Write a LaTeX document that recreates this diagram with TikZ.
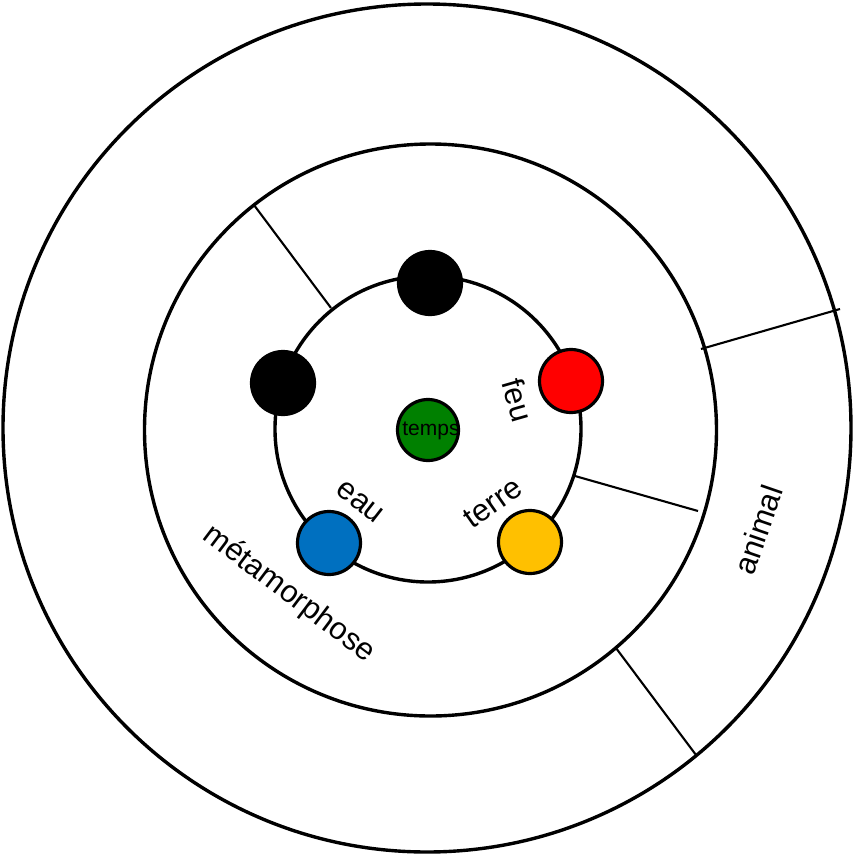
\documentclass[tikz,border=0pt]{standalone}
\usepackage{fontspec}
\setmainfont{Liberation Sans}
\definecolor{cred}{RGB}{255,0,0}
\definecolor{cgreen}{RGB}{0,128,0}
\definecolor{cblue}{RGB}{0,112,192}
\definecolor{cyellow}{RGB}{255,192,0}
\begin{document}
\begin{tikzpicture}[x=1pt,y=-1pt,
  ring/.style={draw=black,line width=3.4pt},
  spoke/.style={draw=black,line width=2.1pt},
  dot/.style={circle,draw=black,line width=3.2pt,minimum size=63pt,inner sep=0pt},
  lbl/.style={font=\fontsize{31}{33}\selectfont,inner sep=0pt}]
\useasboundingbox (0,0) rectangle (854,855);
\coordinate (oc) at (427,428);
\coordinate (mc) at (430.5,430);
\coordinate (ic) at (428,429);
\draw[ring] (oc) circle[radius=424];
\draw[ring] (mc) circle[radius=286];
% spokes
\coordinate (s1a) at (254,205); \coordinate (s1b) at (331,308);
\coordinate (s2a) at (575,476); \coordinate (s2b) at (698,511);
\coordinate (s3a) at (701,349); \coordinate (s3b) at (840,309);
\coordinate (s4a) at (616,648); \coordinate (s4b) at (696,755);
\draw[spoke] (s1a) -- (s1b);
\draw[spoke] (s2a) -- (s2b);
\draw[spoke] (s3a) -- (s3b);
\draw[spoke] (s4a) -- (s4b);
\draw[ring] (ic) circle[radius=153];
% dots
\node[dot,fill=black] (top) at (430,283) {};
\node[dot,fill=black] (left) at (283,383) {};
\node[dot,fill=cred] (feu) at (571,381) {};
\node[dot,fill=cblue] (eau) at (329,543) {};
\node[dot,fill=cyellow] (terre) at (530,542) {};
\node[dot,fill=cgreen,minimum size=61pt] (temps) at (428,430) {};
\node[font=\fontsize{21}{22}\selectfont,inner sep=0pt] (tempst) at (431,431) {temps};
% labels
\node[lbl,rotate=-74] (lfeu) at (518,400) {feu};
\node[lbl,rotate=-38] (leau) at (360,502) {eau};
\node[lbl,rotate=35] (lterre) at (493,503) {terre};
\node[lbl,rotate=-37] (lmeta) at (289,594) {métamorphose};
\node[lbl,rotate=71] (lanimal) at (758,530) {animal};
\end{tikzpicture}
\end{document}
